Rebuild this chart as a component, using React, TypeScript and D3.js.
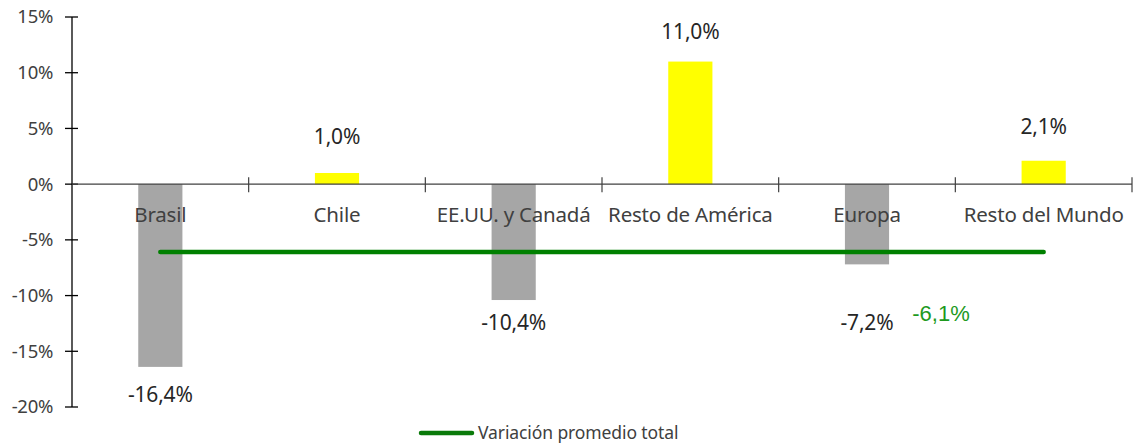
import React from "react";
import * as d3 from "d3";

const categories = ["Brasil", "Chile", "EE.UU. y Canadá", "Resto de América", "Europa", "Resto del Mundo"];
const values = [-16.4, 1.0, -10.4, 11.0, -7.2, 2.1];
const averageValue = -6.1;
const yTicks = [15, 10, 5, 0, -5, -10, -15, -20];
const legendLabel = "Variación promedio total";
// layout: vertical pixel offset of each value label from bar end
const labelDy = [28, -36, 23, -30, 58, -34];

const W = 1135;
const H = 445;
const FONT = "Noto Sans, sans-serif";

export default function App() {
  const x = d3.scaleBand<string>().domain(categories).range([72, 1132]).paddingInner(0).paddingOuter(0);
  const y = d3.scaleLinear().domain([-20, 15]).range([407, 17]);
  const bw = x.bandwidth() * 0.25;
  const fmt = (v: number) => (v < 0 ? "-" : "") + d3.format(".1f")(Math.abs(v)).replace(".", ",") + "%";
  const y0 = y(0);
  const cx = (c: string) => (x(c) as number) + x.bandwidth() / 2;

  return (
    <svg width={W} height={H} style={{ position: "absolute", left: 0, top: 0, background: "#fff" }}>
      {/* bars */}
      {categories.map((c, i) => (
        <rect
          key={c}
          x={cx(c) - bw / 2}
          y={Math.min(y(values[i]), y0)}
          width={bw}
          height={Math.abs(y(values[i]) - y0)}
          fill={values[i] < 0 ? "#A6A6A6" : "#FFFF00"}
        />
      ))}
      {/* y axis */}
      <line x1={72} x2={72} y1={y(15)} y2={y(-20)} stroke="#000" strokeWidth={1.3} />
      {yTicks.map((t) => (
        <g key={t}>
          <line x1={65} x2={78} y1={y(t)} y2={y(t)} stroke="#000" strokeWidth={1.3} />
          <text x={53} y={y(t)} dy="0.35em" textAnchor="end" fontFamily={FONT} fontSize={18.5} fill="#404040" letterSpacing={-0.3}>
            {t + "%"}
          </text>
        </g>
      ))}
      {/* x axis */}
      <line x1={72} x2={1132} y1={y0} y2={y0} stroke="#404040" strokeWidth={1.2} />
      {categories.map((c) => (
        <line key={"t" + c} x1={(x(c) as number) + x.bandwidth()} x2={(x(c) as number) + x.bandwidth()} y1={y0 - 7} y2={y0 + 8} stroke="#404040" strokeWidth={1.2} />
      ))}
      {categories.map((c) => (
        <text key={"l" + c} x={cx(c)} y={y0 + 31} dy="0.35em" textAnchor="middle" fontFamily={FONT} fontSize={20.5} fill="#404040" letterSpacing={-0.2}>
          {c}
        </text>
      ))}
      {/* value labels */}
      {categories.map((c, i) => (
        <text key={"v" + c} x={cx(c)} y={y(values[i]) + labelDy[i]} dy="0.35em" textAnchor="middle" fontFamily={FONT} fontSize={21} fill="#262626" letterSpacing={-0.2}>
          {fmt(values[i])}
        </text>
      ))}
      {/* average line */}
      <line
        x1={cx(categories[0])}
        x2={cx(categories[categories.length - 1])}
        y1={y(averageValue)}
        y2={y(averageValue)}
        stroke="#008000"
        strokeWidth={4.5}
        strokeLinecap="round"
      />
      <text x={941} y={y(averageValue) + 61} dy="0.35em" textAnchor="middle" fontFamily="Liberation Sans, Arial, sans-serif" fontSize={22} fill="#1E9A1E">
        {fmt(averageValue)}
      </text>
      {/* legend */}
      <line x1={421} x2={472} y1={433} y2={433} stroke="#0A7A0A" strokeWidth={4.5} strokeLinecap="round" />
      <text x={478} y={433} dy="0.35em" fontFamily={FONT} fontSize={17.5} fill="#404040" letterSpacing={-0.1}>
        {legendLabel}
      </text>
    </svg>
  );
}
